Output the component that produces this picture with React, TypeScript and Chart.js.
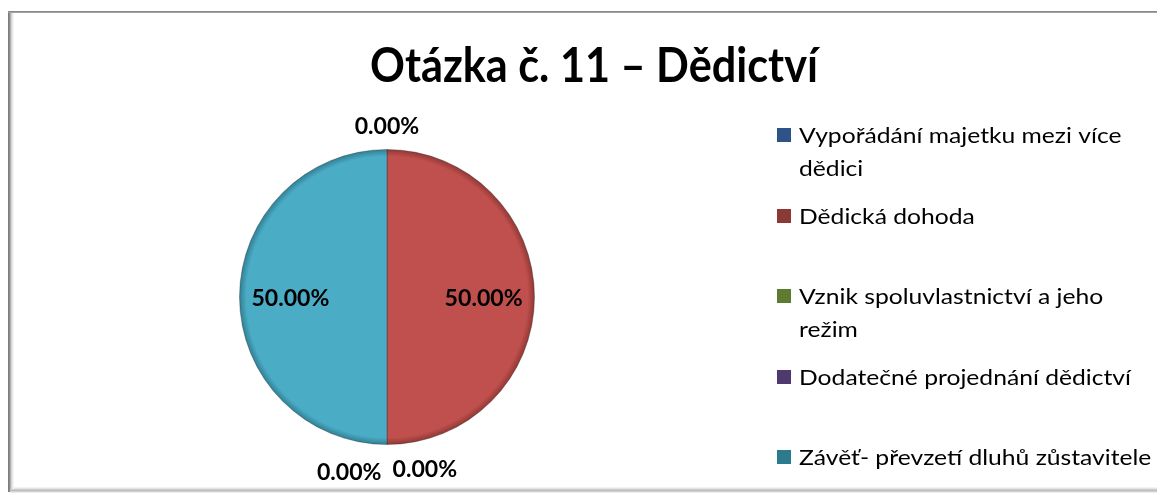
import React, { useEffect, useRef } from 'react';
import { Chart, registerables } from 'chart.js';

Chart.register(...registerables);

const TITLE = 'Otázka č. 11 – Dědictví';
const CATEGORIES: string[][] = [
  ['Vypořádání majetku mezi více', 'dědici'],
  ['Dědická dohoda'],
  ['Vznik spoluvlastnictví a jeho', 'režim'],
  ['Dodatečné projednání dědictví'],
  ['Závěť- převzetí dluhů zůstavitele'],
];
const VALUES = [0, 50, 0, 0, 50];
const SLICE_COLORS = ['#4F81BD', '#C0504D', '#9BBB59', '#8064A2', '#4BACC6'];
const SLICE_EDGE = ['#2F5388', '#8E3634', '#5F7A33', '#4E3A6C', '#2E7D90'];
const LEGEND_COLORS = ['#2F5388', '#8C3836', '#5F7A33', '#4E3A6C', '#2C7A8E'];

const W = 1157;
const H = 487;
const FONT = 'Lato, "Open Sans", sans-serif';

function scaledText(
  ctx: CanvasRenderingContext2D,
  text: string,
  x: number,
  y: number,
  sx: number,
  align: CanvasTextAlign
) {
  ctx.save();
  ctx.translate(x, y);
  ctx.scale(sx, 1);
  ctx.textAlign = align;
  ctx.textBaseline = 'alphabetic';
  ctx.fillText(text, 0, 0);
  ctx.restore();
}

const framePlugin = {
  id: 'frame',
  beforeDraw(chart: any) {
    const ctx: CanvasRenderingContext2D = chart.ctx;
    ctx.save();
    ctx.fillStyle = '#ffffff';
    ctx.fillRect(0, 0, W, H);
    const left = ['#7c7c7c', '#8a8a8a', '#b3b3b3', '#d3d3d3', '#e8e8e8', '#f5f5f5'];
    left.forEach((c, i) => {
      ctx.fillStyle = c;
      ctx.fillRect(i, 3, 1, 481);
    });
    const top = ['#8a8a8a', '#a3a3a3'];
    top.forEach((c, i) => {
      ctx.fillStyle = c;
      ctx.fillRect(0, 3 + i, W, 1);
    });
    const bottom = ['#f3f3f3', '#e4e4e4', '#cfcfcf', '#bdbdbd', '#d2d2d2', '#ededed'];
    bottom.forEach((c, i) => {
      ctx.fillStyle = c;
      ctx.fillRect(i < 2 ? 6 : 2, 479 + i, W, 1);
    });
    ctx.restore();
  },
};

const textPlugin = {
  id: 'texts',
  afterDatasetsDraw(chart: any) {
    const ctx: CanvasRenderingContext2D = chart.ctx;
    ctx.save();
    ctx.fillStyle = '#000000';

    // Title
    ctx.font = `bold 47px ${FONT}`;
    const tsx = 448 / ctx.measureText(TITLE).width;
    scaledText(ctx, TITLE, 586, 74, tsx, 'center');

    // Legend
    ctx.font = `22px ${FONT}`;
    const lsx = 332 / ctx.measureText('Dodatečné projednání dědictví').width;
    CATEGORIES.forEach((lines, i) => {
      const base = 135 + 80.5 * i;
      ctx.fillStyle = LEGEND_COLORS[i];
      ctx.fillRect(769, Math.round(base) - 15, 14, 14);
      ctx.fillStyle = '#000000';
      lines.forEach((ln, j) => {
        scaledText(ctx, ln, 791, base + 33 * j, lsx, 'left');
      });
    });

    // Data labels
    const meta = chart.getDatasetMeta(0);
    const total = VALUES.reduce((a, b) => a + b, 0);
    ctx.font = `bold 23px ${FONT}`;
    const dsx = 78 / ctx.measureText('50.00%').width;
    const labels: { x: number; y: number; text: string; w: number }[] = [];
    meta.data.forEach((arc: any, i: number) => {
      const p = arc.getProps(['x', 'y', 'startAngle', 'endAngle', 'outerRadius'], true);
      const mid = (p.startAngle + p.endAngle) / 2;
      const share = total ? VALUES[i] / total : 0;
      const text = (share * 100).toFixed(2) + '%';
      const r = share > 0 ? p.outerRadius * 0.655 : p.outerRadius + 24;
      labels.push({
        x: p.x + Math.cos(mid) * r,
        y: p.y + Math.sin(mid) * r,
        text,
        w: ctx.measureText(text).width * dsx,
      });
    });
    // resolve overlapping labels by spreading them horizontally
    const used = new Set<number>();
    labels.forEach((a, i) => {
      if (used.has(i)) return;
      const group = [i];
      labels.forEach((b, j) => {
        if (j > i && !used.has(j) && Math.abs(a.x - b.x) < 2 && Math.abs(a.y - b.y) < 2) group.push(j);
      });
      if (group.length > 1) {
        const gap = 11;
        const totalW = group.reduce((s, k) => s + labels[k].w, 0) + gap * (group.length - 1);
        let cx = a.x + totalW / 2;
        group.forEach((k, n) => {
          const l = labels[k];
          l.x = cx - l.w / 2;
          l.y = l.y + n * 3;
          cx -= l.w + gap;
          used.add(k);
        });
      }
    });
    ctx.fillStyle = '#000000';
    labels.forEach((l) => {
      scaledText(ctx, l.text, l.x, l.y + 8.5, dsx, 'center');
    });
    ctx.restore();
  },
};

export default function App() {
  const ref = useRef<HTMLCanvasElement | null>(null);
  useEffect(() => {
    if (!ref.current) return;
    const chart = new Chart(ref.current, {
      type: 'pie',
      data: {
        labels: CATEGORIES.map((l) => l.join(' ')),
        datasets: [
          {
            data: VALUES,
            backgroundColor: (c: any) => {
              const ch = c.chart;
              const a = ch.chartArea;
              const i = c.dataIndex;
              if (!a || i === undefined) return SLICE_COLORS[i || 0];
              const cx = (a.left + a.right) / 2;
              const cy = (a.top + a.bottom) / 2;
              const r = Math.min(a.right - a.left, a.bottom - a.top) / 2;
              const g = ch.ctx.createRadialGradient(cx, cy, 0, cx, cy, r);
              g.addColorStop(0, SLICE_COLORS[i]);
              g.addColorStop(0.95, SLICE_COLORS[i]);
              g.addColorStop(1, SLICE_EDGE[i]);
              return g;
            },
            borderColor: 'rgba(40,40,40,0.35)',
            borderWidth: 1,
            hoverOffset: 0,
          },
        ],
      },
      options: {
        responsive: false,
        animation: false,
        layout: { padding: { left: 231, right: 630, top: 141, bottom: 50 } },
        plugins: {
          legend: { display: false },
          title: { display: false },
          tooltip: { enabled: false },
        },
      },
      plugins: [framePlugin, textPlugin],
    });
    return () => chart.destroy();
  }, []);
  return (
    <div style={{ width: W, height: H }}>
      <canvas ref={ref} width={W} height={H} style={{ display: 'block', width: W, height: H }} />
    </div>
  );
}
